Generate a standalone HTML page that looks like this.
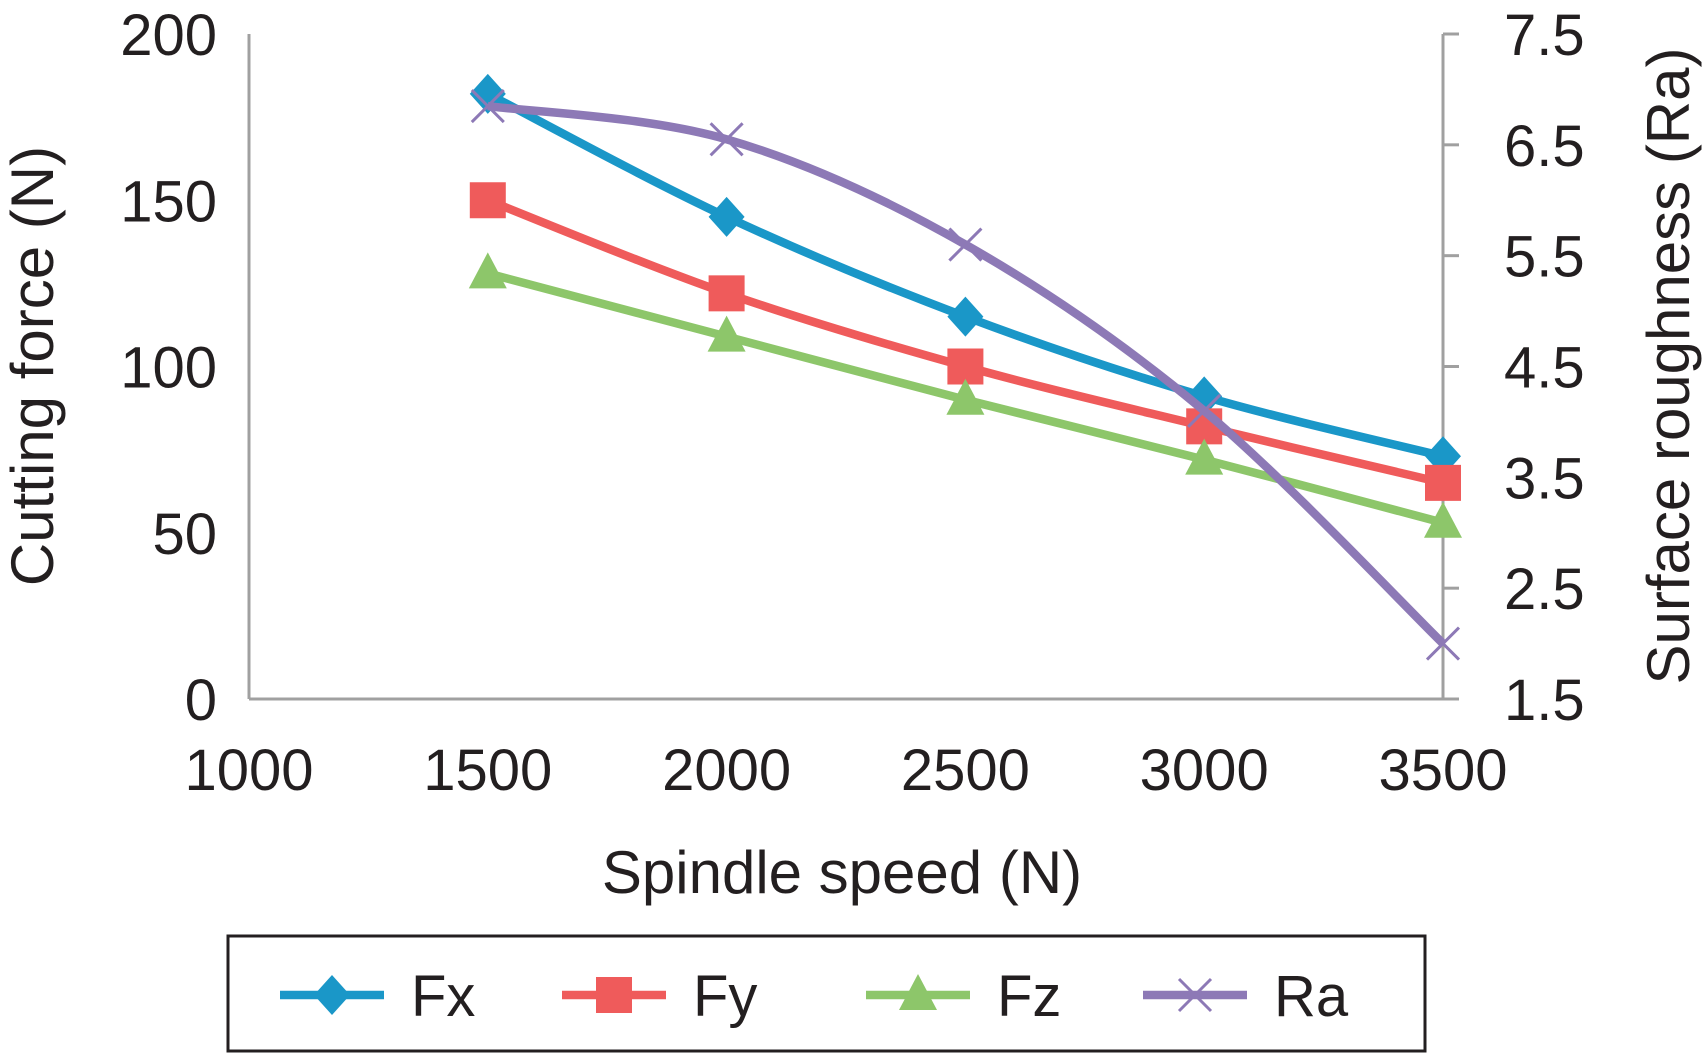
<!DOCTYPE html>
<html><head><meta charset="utf-8"><style>
html,body{margin:0;padding:0;background:#fff;}
svg text{font-family:"Liberation Sans",sans-serif;fill:#231f20;}
</style></head><body>
<svg id="chart" width="1708" height="1053" viewBox="0 0 1708 1053" xmlns="http://www.w3.org/2000/svg"></svg>
<script>
const categories=[1500,2000,2500,3000,3500];
const fxValues=[182,145,115,91,73];
const fyValues=[150,122,100,82,65];
const fzValues=[128,109,90,72,53];
const raValues=[6.85,6.55,5.6,4.1,2.0];
const xTicks=[1000,1500,2000,2500,3000,3500];
const yTicks=[0,50,100,150,200];
const y2Ticks=[1.5,2.5,3.5,4.5,5.5,6.5,7.5];

const NS='http://www.w3.org/2000/svg';
const svg=document.getElementById('chart');
const L=249,R=1443,T=34,B=699;
const x=v=>L+(v-1000)/(3500-1000)*(R-L);
const y=v=>B-(v/200)*(B-T);
const y2=v=>B-(v-1.5)/6*(B-T);
function mk(tag,attrs,parent){const e=document.createElementNS(NS,tag);for(const k in attrs)e.setAttribute(k,attrs[k]);(parent||svg).appendChild(e);return e;}
function smooth(pts){let d='M'+pts[0][0]+','+pts[0][1];for(let i=0;i<pts.length-1;i++){const p0=pts[i-1]||pts[i],p1=pts[i],p2=pts[i+1],p3=pts[i+2]||p2;const t=1/6;d+=' C'+(p1[0]+(p2[0]-p0[0])*t)+','+(p1[1]+(p2[1]-p0[1])*t)+' '+(p2[0]-(p3[0]-p1[0])*t)+','+(p2[1]-(p3[1]-p1[1])*t)+' '+p2[0]+','+p2[1];}return d;}

let a=mk('line',{x1:L,y1:T,x2:L,y2:B,stroke:'#a0a0a0','stroke-width':3});

a=mk('line',{x1:R,y1:T,x2:R,y2:B,stroke:'#a0a0a0','stroke-width':3});

a=mk('line',{x1:L,y1:B,x2:R+16,y2:B,stroke:'#a0a0a0','stroke-width':3});


yTicks.forEach(v=>{const t=mk('text',{x:L-32,y:y(v)+21,'text-anchor':'end','font-size':58});t.textContent=v;
});
y2Ticks.forEach(v=>{mk('line',{x1:R,y1:y2(v),x2:R+16,y2:y2(v),stroke:'#a0a0a0','stroke-width':3});
const t=mk('text',{x:R+61,y:y2(v)+21,'font-size':58});t.textContent=v.toFixed(1);
});
xTicks.forEach(v=>{const t=mk('text',{x:x(v),y:790,'text-anchor':'middle','font-size':58});t.textContent=v;
});

let t=mk('text',{x:842,y:893,'text-anchor':'middle','font-size':60});t.textContent='Spindle speed (N)';

t=mk('text',{x:0,y:0,'text-anchor':'middle','font-size':60,transform:'translate(53,366) rotate(-90)'});t.textContent='Cutting force (N)';

t=mk('text',{x:0,y:0,'text-anchor':'middle','font-size':60,transform:'translate(1689,366) rotate(-90)'});t.textContent='Surface roughness (Ra)';


function marker(type,cx,cy,color,g){
 if(type==='diamond')mk('polygon',{points:`${cx},${cy-20} ${cx+18},${cy} ${cx},${cy+20} ${cx-18},${cy}`,fill:color},g);
 else if(type==='square')mk('rect',{x:cx-18,y:cy-18,width:36,height:36,fill:color},g);
 else if(type==='triangle')mk('polygon',{points:`${cx},${cy-21} ${cx+19},${cy+15} ${cx-19},${cy+15}`,fill:color},g);
 else{mk('path',{d:`M${cx-16},${cy-16}L${cx+16},${cy+16}M${cx+16},${cy-16}L${cx-16},${cy+16}`,stroke:color,'stroke-width':3},g);}
}
const series=[
 {name:'Fx',vals:fxValues,color:'#1a97c8',m:'diamond',sc:y},
 {name:'Fy',vals:fyValues,color:'#ef5b5b',m:'square',sc:y},
 {name:'Fz',vals:fzValues,color:'#8dc66a',m:'triangle',sc:y},
 {name:'Ra',vals:raValues,color:'#8d79b6',m:'x',sc:y2}];
series.forEach(s=>{
 const g=mk('g',{});
 const pts=categories.map((c,i)=>[x(c),s.sc(s.vals[i])]);
 mk('path',{d:smooth(pts),fill:'none',stroke:s.color,'stroke-width':8.5,'stroke-linejoin':'round'},g);
 pts.forEach(p=>marker(s.m,p[0],p[1],s.color,g));
});

const lg=mk('g',{});
mk('rect',{x:228,y:936,width:1197,height:115,fill:'#fff',stroke:'#231f20','stroke-width':3},lg);
const lx=[280,562,866,1143];
series.forEach((s,i)=>{
 const e=mk('g',{},lg);
 mk('line',{x1:lx[i],y1:995,x2:lx[i]+104,y2:995,stroke:s.color,'stroke-width':8.5},e);
 marker(s.m,lx[i]+52,995,s.color,e);
 const tt=mk('text',{x:lx[i]+131,y:1016,'font-size':58},e);tt.textContent=s.name;
});
</script>
</body></html>
